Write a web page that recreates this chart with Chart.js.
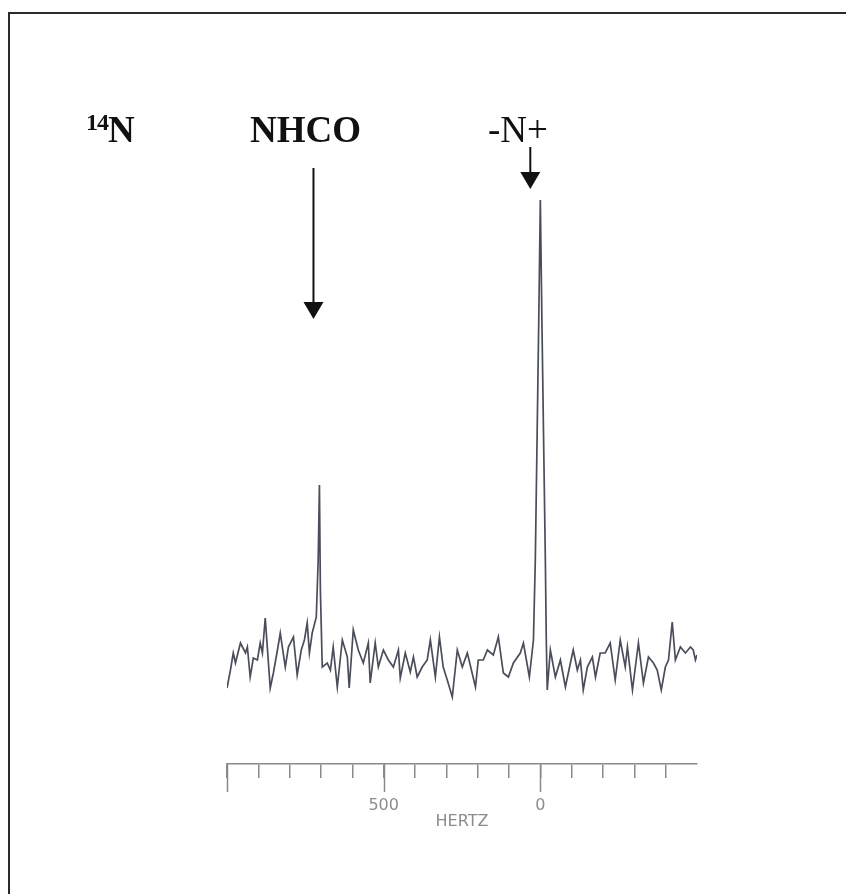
<!DOCTYPE html>
<html>
<head>
<meta charset="utf-8">
<script src="https://cdn.jsdelivr.net/npm/chart.js@4.4.1/dist/chart.umd.min.js"></script>
<style>
  html, body { margin: 0; padding: 0; background: #fff; }
  #wrap { position: relative; width: 846px; height: 894px; overflow: hidden; }
  #frame { position: absolute; left: 8px; top: 12px; width: 900px; height: 950px;
           border-left: 2px solid #2a2a2a; border-top: 2px solid #2a2a2a; }
  canvas { position: absolute; left: 0; top: 0; }
  .lbl { position: absolute; font-family: "Liberation Serif", "Times New Roman", serif;
         font-size: 37px; line-height: 37px; color: #111; white-space: nowrap; }
  .lbl sup { font-size: 24px; vertical-align: 12px; line-height: 0; letter-spacing: -1px; }
</style>
</head>
<body>
<div id="wrap">
  <div id="frame"></div>
  <canvas id="spectrum" width="846" height="894"></canvas>
  <div class="lbl" style="left:86px; top:111px; font-weight:bold;"><sup>14</sup>N</div>
  <div class="lbl" style="left:250px; top:111px; font-weight:bold;">NHCO</div>
  <div class="lbl" style="left:488px; top:111px;">-N+</div>
</div>
<script>
// 14N spectrum, frequency in Hz (axis runs right to left), intensity arbitrary units
const hertz = [
  1000, 989, 980, 973, 957, 941, 935, 926, 916, 903, 894, 887, 878, 862, 852, 839,
  830, 814, 804, 788, 776, 763, 753, 744, 737, 728, 715, 709, 705, 702, 696, 680,
  670, 661, 648, 632, 616, 610, 597, 581, 565, 549, 543, 527, 517, 501, 485, 469,
  453, 447, 431, 415, 405, 393, 377, 361, 351, 335, 322, 310, 297, 281, 265, 249,
  233, 207, 198, 182, 169, 150, 134, 118, 102, 86, 64, 54, 35, 22, 16, 10,
  5, 0, -5, -10, -16, -19, -22, -32, -48, -64, -80, -96, -105, -118, -128, -137,
  -150, -166, -176, -191, -207, -223, -239, -255, -271, -278, -294, -313, -329, -345, -361, -373,
  -386, -399, -409, -421, -431, -447, -463, -479, -488, -495, -500
];
const intensity = [
  76, 94, 111, 101, 121, 111, 117, 87, 106, 104, 121, 111, 146, 76, 91, 114,
  131, 97, 117, 127, 89, 114, 124, 141, 111, 131, 147, 204, 279, 174, 97, 101,
  94, 117, 77, 124, 107, 76, 134, 114, 101, 121, 81, 121, 97, 114, 104, 97,
  114, 86, 111, 92, 107, 87, 97, 104, 124, 87, 127, 97, 84, 67, 114, 97,
  111, 77, 104, 104, 114, 109, 127, 91, 87, 101, 111, 121, 87, 124, 204, 334,
  444, 564, 444, 334, 204, 124, 74, 114, 87, 104, 77, 101, 114, 94, 104, 74,
  97, 107, 87, 111, 111, 121, 84, 124, 97, 117, 74, 121, 81, 107, 101, 94,
  74, 97, 104, 142, 104, 117, 111, 117, 114, 104, 109
];
const labelledTicks = [500, 0];
const longTicks = [1000, 500, 0];
// arrows: x in Hz, from/to in intensity units
const arrowX = [724, 32];
const arrowFrom = [596, 617];
const arrowTo = [445, 575];

const points = hertz.map((h, i) => ({ x: h, y: intensity[i] }));
const axisGrey = "#8a8a8a";

const longTickPlugin = {
    id: "longTicks",
    afterDraw(chart) {
        const { ctx, scales: { x } } = chart;
        ctx.save();
        ctx.strokeStyle = axisGrey;
        ctx.lineWidth = 1.5;
        longTicks.forEach((v) => {
            const px = Math.round(x.getPixelForValue(v)) + 0.5;
            ctx.beginPath();
            ctx.moveTo(px, x.top);
            ctx.lineTo(px, x.top + 28);
            ctx.stroke();
        });
        ctx.restore();
    },
};

const arrowPlugin = {
    id: "arrows",
    afterDraw(chart) {
        const { ctx, scales: { x, y } } = chart;
        ctx.save();
        ctx.strokeStyle = "#111";
        ctx.fillStyle = "#111";
        ctx.lineWidth = 2;
        arrowX.forEach((h, i) => {
            const px = x.getPixelForValue(h);
            const y0 = y.getPixelForValue(arrowFrom[i]);
            const y1 = y.getPixelForValue(arrowTo[i]);
            ctx.beginPath();
            ctx.moveTo(px, y0);
            ctx.lineTo(px, y1 - 16);
            ctx.stroke();
            ctx.beginPath();
            ctx.moveTo(px - 10, y1 - 17);
            ctx.lineTo(px + 10, y1 - 17);
            ctx.lineTo(px, y1);
            ctx.closePath();
            ctx.fill();
        });
        ctx.restore();
    },
};

new Chart(document.getElementById("spectrum").getContext("2d"), {
    type: "line",
    data: {
        datasets: [{
            data: points,
            borderColor: "#4a4d5a",
            borderWidth: 1.7,
            pointRadius: 0,
            tension: 0,
            fill: false,
        }],
    },
    options: {
        responsive: false,
        animation: false,
        events: [],
        layout: { padding: { left: 227, right: 149, top: 150, bottom: 62.6 } },
        plugins: { legend: { display: false }, tooltip: { enabled: false } },
        scales: {
            x: {
                type: "linear",
                reverse: true,
                min: -500,
                max: 1000,
                border: { display: true, color: axisGrey, width: 1.5 },
                grid: {
                    drawOnChartArea: false,
                    drawTicks: true,
                    tickLength: 14,
                    lineWidth: 1.5,
                    color: (c) => (c.tick && c.tick.value === -500 ? "rgba(0,0,0,0)" : axisGrey),
                },
                ticks: {
                    stepSize: 100,
                    autoSkip: false,
                    maxRotation: 0,
                    padding: 18,
                    color: "#8c8c8c",
                    font: { family: "DejaVu Sans", size: 16 },
                    callback: (v) => (labelledTicks.includes(v) ? String(v) : ""),
                },
                title: {
                    display: true,
                    text: "HERTZ",
                    color: "#8c8c8c",
                    font: { family: "DejaVu Sans", size: 16 },
                    padding: { top: -21, bottom: 0 },
                },
            },
            y: {
                display: false,
                min: 0,
                max: 614,
            },
        },
    },
    plugins: [longTickPlugin, arrowPlugin],
});
</script>
</body>
</html>
